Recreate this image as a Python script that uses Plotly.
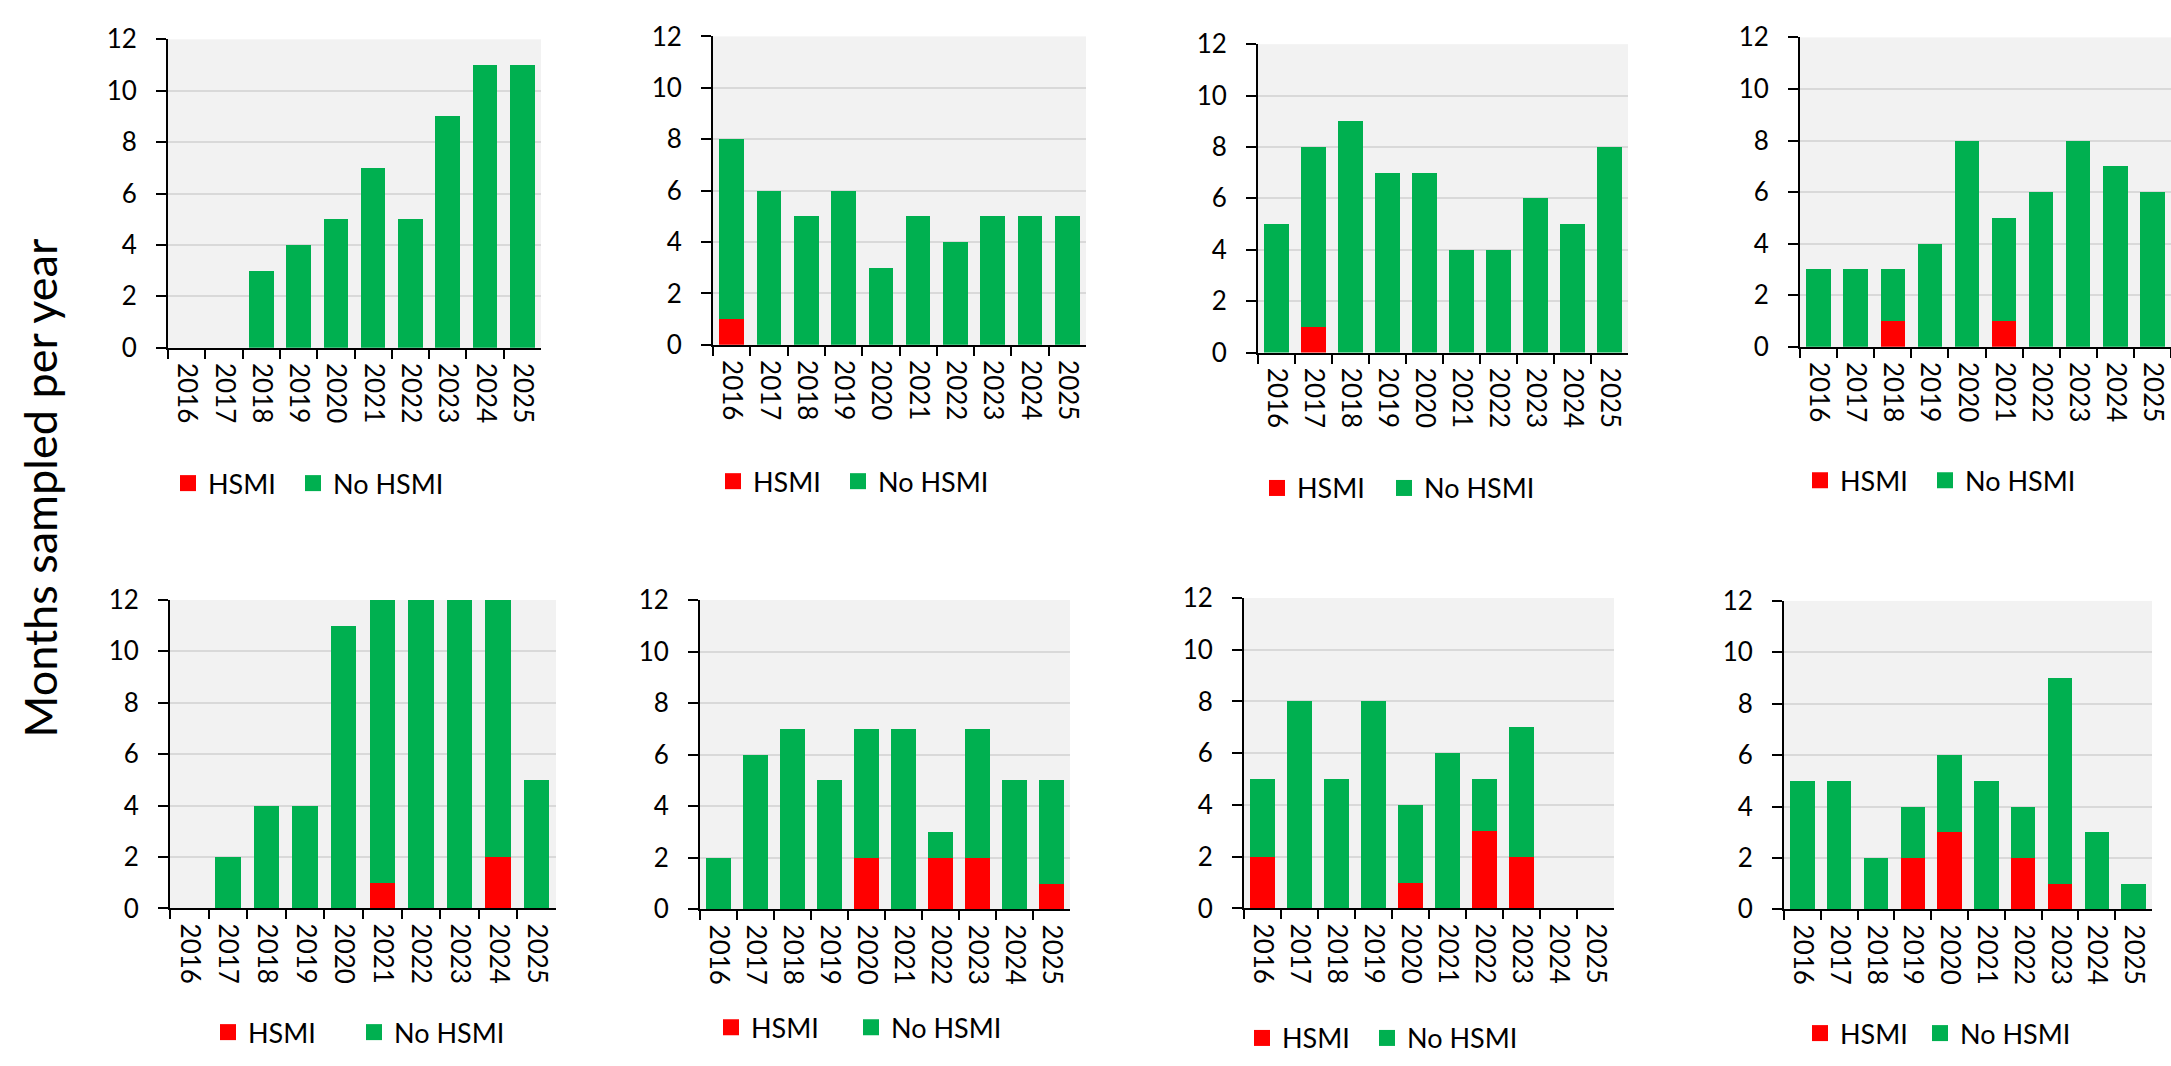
import plotly.graph_objects as go

years = ["2016", "2017", "2018", "2019", "2020", "2021", "2022", "2023", "2024", "2025"]

# HSMI (red, bottom) and No HSMI (green, top) months per year for each panel
hsmi_1 = [0, 0, 0, 0, 0, 0, 0, 0, 0, 0]
no_hsmi_1 = [0, 0, 3, 4, 5, 7, 5, 9, 11, 11]

hsmi_2 = [1, 0, 0, 0, 0, 0, 0, 0, 0, 0]
no_hsmi_2 = [7, 6, 5, 6, 3, 5, 4, 5, 5, 5]

hsmi_3 = [0, 1, 0, 0, 0, 0, 0, 0, 0, 0]
no_hsmi_3 = [5, 7, 9, 7, 7, 4, 4, 6, 5, 8]

hsmi_4 = [0, 0, 1, 0, 0, 1, 0, 0, 0, 0]
no_hsmi_4 = [3, 3, 2, 4, 8, 4, 6, 8, 7, 6]

hsmi_5 = [0, 0, 0, 0, 0, 1, 0, 0, 2, 0]
no_hsmi_5 = [0, 2, 4, 4, 11, 11, 12, 12, 10, 5]

hsmi_6 = [0, 0, 0, 0, 2, 0, 2, 2, 0, 1]
no_hsmi_6 = [2, 6, 7, 5, 5, 7, 1, 5, 5, 4]

hsmi_7 = [2, 0, 0, 0, 1, 0, 3, 2, 0, 0]
no_hsmi_7 = [3, 8, 5, 8, 3, 6, 2, 5, 0, 0]

hsmi_8 = [0, 0, 0, 2, 3, 0, 2, 1, 0, 0]
no_hsmi_8 = [5, 5, 2, 2, 3, 5, 2, 8, 3, 1]

y_ticks = [0, 2, 4, 6, 8, 10, 12]
y_title = "Months sampled per year"
series_names = ["HSMI", "No HSMI"]

panels = [
    (hsmi_1, no_hsmi_1), (hsmi_2, no_hsmi_2), (hsmi_3, no_hsmi_3), (hsmi_4, no_hsmi_4),
    (hsmi_5, no_hsmi_5), (hsmi_6, no_hsmi_6), (hsmi_7, no_hsmi_7), (hsmi_8, no_hsmi_8),
]

# ---------- geometry (pixels) ----------
W, H = 2171, 1066
boxes = [  # left, right, top, bottom of each plot area
    (168, 541, 23, 341),
    (713, 1086, 20, 338),
    (1258, 1628, 28, 346),
    (1800, 2171, 21, 340),
    (170, 556, 601, 919),
    (700, 1070, 601, 920),
    (1244, 1614, 599, 919),
    (1784, 2152, 602, 920),
]
legend_geo = [  # swatch centre x of "HSMI", swatch centre x of "No HSMI", centre y
    (188, 313, 481),
    (733, 858, 479),
    (1277, 1404, 486),
    (1820, 1945, 478),
    (228, 374, 1047),
    (731, 871, 1042),
    (1262, 1387, 1053),
    (1820, 1940, 1048),
]

RED = "#ff0000"
GREEN = "#00b050"
FONT = "Lato"
COLORS = [RED, GREEN]

fig = go.Figure()
layout = dict(
    width=W, height=H, autosize=False,
    margin=dict(l=0, r=0, t=0, b=0),
    paper_bgcolor="white",
    plot_bgcolor="#f2f2f2",
    barmode="stack",
    bargap=0.34,
    font=dict(family=FONT, color="black", size=26),
    showlegend=True,
)


def legend_box(cx, cy):
    return dict(
        orientation="h", x=(cx - 20) / W, xanchor="left", y=1 - cy / H, yanchor="middle",
        bgcolor="rgba(0,0,0,0)", borderwidth=0, itemsizing="trace",
        font=dict(family=FONT, size=27, color="black"),
        itemclick=False, itemdoubleclick=False,
    )


for i, ((hs, nh), (l, r, t, b), (lx1, lx2, ly)) in enumerate(zip(panels, boxes, legend_geo)):
    n = i + 1
    xa = "x" if n == 1 else f"x{n}"
    ya = "y" if n == 1 else f"y{n}"
    lg1 = "legend" if n == 1 else f"legend{2 * n - 1}"
    lg2 = f"legend{2 * n}"
    for vals, name, col in zip((hs, nh), series_names, COLORS):
        fig.add_trace(go.Bar(x=years, y=vals, name=name, marker=dict(color=col, line=dict(width=0)),
                             xaxis=xa, yaxis=ya, showlegend=False))
    # legend keys (square swatches like the original)
    for name, col, lg in zip(series_names, COLORS, (lg1, lg2)):
        fig.add_trace(go.Scatter(x=[None], y=[None], mode="markers", name=name,
                                 marker=dict(symbol="square", size=16, color=col),
                                 xaxis=xa, yaxis=ya, legend=lg, hoverinfo="skip"))
    xkey = "xaxis" if n == 1 else f"xaxis{n}"
    ykey = "yaxis" if n == 1 else f"yaxis{n}"
    layout[xkey] = dict(
        domain=[l / W, r / W], anchor=ya,
        type="category", categoryorder="array", categoryarray=years,
        range=[-0.5, len(years) - 0.5],
        showline=True, linecolor="black", linewidth=2,
        ticks="outside", ticklen=9, tickwidth=2, tickcolor="black",
        tickson="boundaries", tickangle=90, ticklabelstandoff=8,
        tickfont=dict(family=FONT, size=26, color="black"),
        showgrid=False, zeroline=False, fixedrange=True,
    )
    layout[ykey] = dict(
        domain=[1 - b / H, 1 - t / H], anchor=xa,
        range=[0, 12], tickvals=y_ticks,
        showline=True, linecolor="black", linewidth=2,
        ticks="outside", ticklen=10, tickwidth=2, tickcolor="black",
        ticklabelstandoff=14,
        tickfont=dict(family=FONT, size=26, color="black"),
        showgrid=True, gridcolor="#d9d9d9", gridwidth=2,
        zeroline=False, fixedrange=True,
    )
    layout[lg1] = legend_box(lx1, ly)
    layout[lg2] = legend_box(lx2, ly)

layout["annotations"] = [dict(
    text=y_title, xref="paper", yref="paper", x=40 / W, y=1 - 486 / H,
    showarrow=False, textangle=-90, xanchor="center", yanchor="middle",
    font=dict(family=FONT, size=45, color="black"),
)]

fig.update_layout(**layout)

fig.write_html("out.html", config={"displayModeBar": False},
               post_script="document.body.style.margin='0';document.body.style.overflow='hidden';")
